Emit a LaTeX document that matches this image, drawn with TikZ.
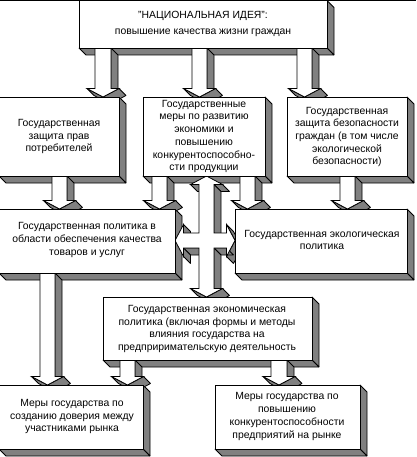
\documentclass[tikz,border=0pt]{standalone}
\usepackage{fontspec}
\setmainfont{Liberation Sans}
\definecolor{shade}{HTML}{808080}
\tikzset{
  side/.style={fill=shade, draw=black, line width=0.8pt, line join=bevel},
  face/.style={fill=white, draw=black, line width=0.8pt, line join=miter},
  txt/.style={align=center, inner sep=0pt, font=\fontsize{10.4}{12.7}\selectfont},
}
\def\dd{7}
\newcommand\sidesof[1]{%
  \foreach \x/\y [count=\i] in #1 {%
    \ifnum\i>1\relax
      \pgfmathsetmacro\vis{(\y-\prevY)-(\x-\prevX)}%
      \ifdim\vis pt>0.5pt\relax
        \filldraw[side] (\prevX,\prevY) -- (\x,\y) -- (\x+\dd,\y+\dd) -- (\prevX+\dd,\prevY+\dd) -- cycle;
      \fi
    \fi
    \xdef\prevX{\x}\xdef\prevY{\y}%
  }%
}
\newcommand\faceof[1]{%
  \foreach \x/\y [count=\i] in #1 {%
    \ifnum\i=1\relax \xdef\facepath{(\x,\y)}\else \xdef\facepath{\facepath -- (\x,\y)}\fi
  }%
  \filldraw[face] \facepath -- cycle;
}
\newcommand\solidof[1]{\sidesof{#1}\faceof{#1}}
% boxes
\def\bTop{79/0.5, 327/0.5, 327/48, 79/48, 79/0.5}
\def\bA{-1/97, 119/97, 119/176, -1/176, -1/97}
\def\bB{143/97, 265/97, 265/176, 143/176, 143/97}
\def\bC{287/97, 407/97, 407/176, 287/176, 287/97}
\def\bL{-1/209, 175/209, 175/273, -1/273, -1/209}
\def\bR{235/209, 407/209, 407/273, 235/273, 235/209}
\def\bE{103/297, 312/297, 312/360, 103/360, 103/297}
\def\bBL{-1/385, 143/385, 143/449, -1/449, -1/385}
\def\bBR{215/385, 360/385, 360/449, 215/449, 215/385}
% arrows
\def\aA{95/48, 111/48, 111/88.5, 119/88.5, 103/97, 87/88.5, 95/88.5, 95/48}
\def\aB{192/48, 207/48, 207/88.5, 215.5/88.5, 199.5/97, 183.5/88.5, 192/88.5, 192/48}
\def\aC{297/48, 312/48, 312/88.5, 320.5/88.5, 304.5/97, 288.5/88.5, 297/88.5, 297/48}
\def\aD{52/176, 67/176, 67/200.5, 75.5/200.5, 59.5/209, 43.5/200.5, 52/200.5, 52/176}
\def\aE{152/176, 167/176, 167/200.5, 175.5/200.5, 159.5/209, 143.5/200.5, 152/200.5, 152/176}
\def\aF{240/176, 255/176, 255/200.5, 263.5/200.5, 247.5/209, 231.5/200.5, 240/200.5, 240/176}
\def\aG{340/176, 355/176, 355/200.5, 363.5/200.5, 347.5/209, 331.5/200.5, 340/200.5, 340/176}
\def\aH{40/273, 55/273, 55/376.5, 63.5/376.5, 47.5/385, 31.5/376.5, 40/376.5, 40/273}
\def\aI{120/360, 135/360, 135/376.5, 143.5/376.5, 127.5/385, 111.5/376.5, 120/376.5, 120/360}
\def\aJ{271/360, 287/360, 287/376.5, 295/376.5, 279/385, 263/376.5, 271/376.5, 271/360}
\def\aX{206.5/176, 222.5/184.5, 214/184.5, 214/233, 226.5/233, 226.5/224.5, 235/240.5, 226.5/256.5, 226.5/248, 214/248, 214/288.5, 222.5/288.5, 206.5/297, 190.5/288.5, 199/288.5, 199/248, 183.5/248, 183.5/256.5, 175/240.5, 183.5/224.5, 183.5/233, 199/233, 199/184.5, 190.5/184.5, 206.5/176}
\begin{document}
\begin{tikzpicture}[x=1pt,y=-1pt]
\useasboundingbox (0,0) rectangle (416,457);
\fill[white] (0,0) rectangle (416,457);
\draw[line width=0.8pt] (0,0.5) -- (416,0.5);
% box sides
\sidesof{\bTop}\sidesof{\bA}\sidesof{\bB}\sidesof{\bC}
\sidesof{\bL}\sidesof{\bR}\sidesof{\bE}\sidesof{\bBL}\sidesof{\bBR}
% block arrows
\solidof{\aA}\solidof{\aB}\solidof{\aC}
\solidof{\aD}\solidof{\aE}\solidof{\aF}\solidof{\aG}
\solidof{\aX}
\solidof{\aH}\solidof{\aI}\solidof{\aJ}
% box faces
\faceof{\bTop}\faceof{\bA}\faceof{\bB}\faceof{\bC}
\faceof{\bL}\faceof{\bR}\faceof{\bE}\faceof{\bBL}\faceof{\bBR}
% texts
\node[txt] (t0) at (203,24) {"НАЦИОНАЛЬНАЯ ИДЕЯ":\\[3.3pt]повышение качества жизни граждан};
\node[txt] (t1) at (59,136.7) {Государственная\\защита прав\\потребителей};
\node[txt] (t2) at (204,136.5) {Государственные\\меры по развитию\\экономики и\\повышению\\конкурентоспособно-\\сти продукции};
\node[txt] (t3) at (347,137) {Государственная\\защита безопасности\\граждан (в том числе\\экологической\\безопасности)};
\node[txt] (t4) at (87,240) {Государственная политика в\\области обеспечения качества\\товаров и услуг};
\node[txt] (t5) at (322,240) {Государственная экологическая\\политика};
\node[txt] (t6) at (207,329) {Государственная экономическая\\политика (включая формы и методы\\влияния государства на\\предприримательскую деятельность};
\node[txt] (t7) at (72,416.5) {Меры государства по\\созданию доверия между\\участниками рынка};
\node[txt] (t8) at (287,416.5) {Меры государства по\\повышению\\конкурентоспособности\\предприятий на рынке};
\end{tikzpicture}
\end{document}
